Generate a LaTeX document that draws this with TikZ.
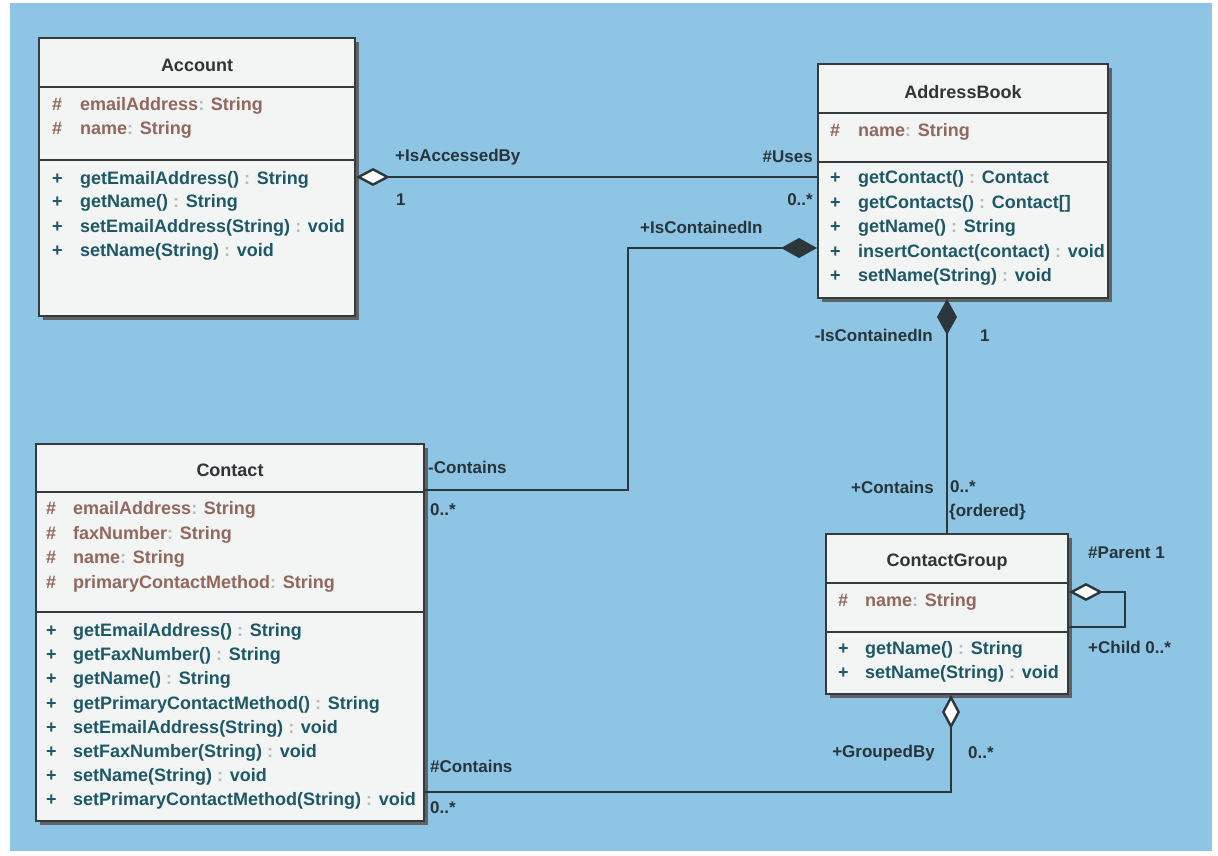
\documentclass[tikz,border=0pt]{standalone}
\usepackage{fontspec}
\setmainfont{Liberation Sans}
\usetikzlibrary{arrows.meta,shadows}

\definecolor{bgblue}{HTML}{8EC5E4}
\definecolor{boxfill}{HTML}{F3F4F4}
\definecolor{boxline}{HTML}{353B3D}
\definecolor{attrcol}{HTML}{93675C}
\definecolor{methcol}{HTML}{1D5868}
\definecolor{namecol}{HTML}{2F3436}
\definecolor{labelcol}{HTML}{27343A}
\definecolor{linecol}{HTML}{2C373B}
\definecolor{coloncol}{HTML}{B5BABC}
\definecolor{shadowcol}{HTML}{5E6466}

% faint separator between a member and its type
\newcommand\cln{\textcolor{coloncol}{:}}

\begin{document}
\begin{tikzpicture}[x=1pt,y=-1pt,
  font=\fontsize{18}{20}\selectfont\bfseries,
  classbox/.style={draw=boxline, line width=2pt, fill=boxfill, inner sep=0pt,
    anchor=north west,
    drop shadow={shadow xshift=4pt, shadow yshift=-4pt, fill=shadowcol, opacity=1}},
  divider/.style={draw=boxline, line width=2pt},
  cname/.style={inner sep=0pt, text=namecol},
  member/.style={anchor=west, inner sep=0pt},
  attr/.style={member, text=attrcol},
  meth/.style={member, text=methcol},
  lbl/.style={inner sep=0pt, text=labelcol, font=\fontsize{17}{19}\selectfont\bfseries},
  assoc/.style={draw=linecol, line width=2.4pt},
  aggr/.style={assoc, {Diamond[fill=white, length=34pt, width=18pt]}-},
  comp/.style={assoc, {Diamond[length=36pt, width=20pt]}-}
]
\useasboundingbox (0,0) rectangle (1218,856);
\fill[white] (0,0) rectangle (1218,856);
\fill[bgblue] (10,3) rectangle (1212,851);

% ---------------- Account ----------------
\node[classbox, minimum width=316pt, minimum height=278pt] (account) at (38,37) {};
\draw[divider] ([yshift=-50pt]account.north west) -- ([yshift=-50pt]account.north east);
\draw[divider] ([yshift=-123pt]account.north west) -- ([yshift=-123pt]account.north east);
\node[cname] (acc-t) at ([yshift=-28pt]account.north) {Account};
\node[attr] (acc-a1) at (52,106) {\makebox[28pt][l]{\#}emailAddress\cln{} String};
\node[attr] (acc-a2) at (52,130) {\makebox[28pt][l]{\#}name\cln{} String};
\node[meth] (acc-m1) at (52,180) {\makebox[28pt][l]{+}getEmailAddress() \cln{} String};
\node[meth] (acc-m2) at (52,203) {\makebox[28pt][l]{+}getName() \cln{} String};
\node[meth] (acc-m3) at (52,228) {\makebox[28pt][l]{+}setEmailAddress(String) \cln{} void};
\node[meth] (acc-m4) at (52,252) {\makebox[28pt][l]{+}setName(String) \cln{} void};

% ---------------- AddressBook ----------------
\node[classbox, minimum width=290pt, minimum height=234pt] (book) at (817,63) {};
\draw[divider] ([yshift=-50pt]book.north west) -- ([yshift=-50pt]book.north east);
\draw[divider] ([yshift=-99pt]book.north west) -- ([yshift=-99pt]book.north east);
\node[cname] (book-t) at ([yshift=-29pt]book.north) {AddressBook};
\node[attr] (book-a1) at (830,132) {\makebox[28pt][l]{\#}name\cln{} String};
\node[meth] (book-m1) at (830,179) {\makebox[28pt][l]{+}getContact() \cln{} Contact};
\node[meth] (book-m2) at (830,204) {\makebox[28pt][l]{+}getContacts() \cln{} Contact[]};
\node[meth] (book-m3) at (830,228) {\makebox[28pt][l]{+}getName() \cln{} String};
\node[meth] (book-m4) at (830,253) {\makebox[28pt][l]{+}insertContact(contact) \cln{} void};
\node[meth] (book-m5) at (830,277) {\makebox[28pt][l]{+}setName(String) \cln{} void};

% ---------------- Contact ----------------
\node[classbox, minimum width=388pt, minimum height=377pt] (contact) at (35,443) {};
\draw[divider] ([yshift=-49pt]contact.north west) -- ([yshift=-49pt]contact.north east);
\draw[divider] ([yshift=-169pt]contact.north west) -- ([yshift=-169pt]contact.north east);
\node[cname] (con-t) at ([yshift=-27pt]contact.north) {Contact};
\node[attr] (con-a1) at (46,510) {\makebox[27pt][l]{\#}emailAddress\cln{} String};
\node[attr] (con-a2) at (46,535) {\makebox[27pt][l]{\#}faxNumber\cln{} String};
\node[attr] (con-a3) at (46,559) {\makebox[27pt][l]{\#}name\cln{} String};
\node[attr] (con-a4) at (46,584) {\makebox[27pt][l]{\#}primaryContactMethod\cln{} String};
\node[meth] (con-m1) at (46,632) {\makebox[27pt][l]{+}getEmailAddress() \cln{} String};
\node[meth] (con-m2) at (46,656) {\makebox[27pt][l]{+}getFaxNumber() \cln{} String};
\node[meth] (con-m3) at (46,680) {\makebox[27pt][l]{+}getName() \cln{} String};
\node[meth] (con-m4) at (46,705) {\makebox[27pt][l]{+}getPrimaryContactMethod() \cln{} String};
\node[meth] (con-m5) at (46,729) {\makebox[27pt][l]{+}setEmailAddress(String) \cln{} void};
\node[meth] (con-m6) at (46,753) {\makebox[27pt][l]{+}setFaxNumber(String) \cln{} void};
\node[meth] (con-m7) at (46,777) {\makebox[27pt][l]{+}setName(String) \cln{} void};
\node[meth] (con-m8) at (46,801) {\makebox[27pt][l]{+}setPrimaryContactMethod(String) \cln{} void};

% ---------------- ContactGroup ----------------
\node[classbox, minimum width=242pt, minimum height=160pt] (cg) at (825,533) {};
\draw[divider] ([yshift=-50pt]cg.north west) -- ([yshift=-50pt]cg.north east);
\draw[divider] ([yshift=-99pt]cg.north west) -- ([yshift=-99pt]cg.north east);
\node[cname] (cg-t) at ([yshift=-29pt]cg.north) {ContactGroup};
\node[attr] (cg-a1) at (838,602) {\makebox[27pt][l]{\#}name\cln{} String};
\node[meth] (cg-m1) at (838,650) {\makebox[27pt][l]{+}getName() \cln{} String};
\node[meth] (cg-m2) at (838,674) {\makebox[27pt][l]{+}setName(String) \cln{} void};

% ---------------- associations ----------------
% Account <>-- AddressBook
\draw[aggr] (account.east) -- (account.east -| book.west);
% AddressBook <#>-- Contact
\draw[comp] ([yshift=-185pt]book.north west)
  -| ([xshift=203pt,yshift=-47pt]contact.north east)
  -- ([yshift=-47pt]contact.north east);
% AddressBook <#>-- ContactGroup
\draw[comp] (cg.north |- book.south) -- (cg.north);
% ContactGroup <>-- Contact
\draw[aggr] ([xshift=4pt]cg.south) |- ([yshift=30pt]contact.south east);
% ContactGroup <>-- ContactGroup (parent/child)
\draw[aggr] ([yshift=-59pt]cg.north east) -- ++(56,0) |- ([yshift=-94pt]cg.north east);

% ---------------- role names and multiplicities ----------------
\node[lbl, anchor=west] (r-acc) at (395,157) {+IsAccessedBy};
\node[lbl, anchor=west] (m-acc) at (396,200) {1};
\node[lbl, anchor=east] (r-uses) at (813,157) {\#Uses};
\node[lbl, anchor=east] (m-uses) at (813,200) {0..*};
\node[lbl, anchor=west] (r-cin1) at (640,227) {+IsContainedIn};
\node[lbl, anchor=west] (r-con1) at (428,467) {-Contains};
\node[lbl, anchor=west] (m-con1) at (430,510) {0..*};
\node[lbl, anchor=east] (r-cin2) at (933,335) {-IsContainedIn};
\node[lbl, anchor=west] (m-cin2) at (980,336) {1};
\node[lbl, anchor=east] (r-con2) at (934,487) {+Contains};
\node[lbl, anchor=west] (m-con2) at (950,487) {0..*};
\node[lbl, anchor=west] (c-ord) at (949,512) {\{ordered\}};
\node[lbl, anchor=west] (r-par) at (1088,553) {\#Parent 1};
\node[lbl, anchor=west] (r-chi) at (1088,647) {+Child 0..*};
\node[lbl, anchor=east] (r-grp) at (935,753) {+GroupedBy};
\node[lbl, anchor=west] (m-grp) at (968,753) {0..*};
\node[lbl, anchor=west] (r-con3) at (430,766) {\#Contains};
\node[lbl, anchor=west] (m-con3) at (430,808) {0..*};
\end{tikzpicture}
\end{document}
